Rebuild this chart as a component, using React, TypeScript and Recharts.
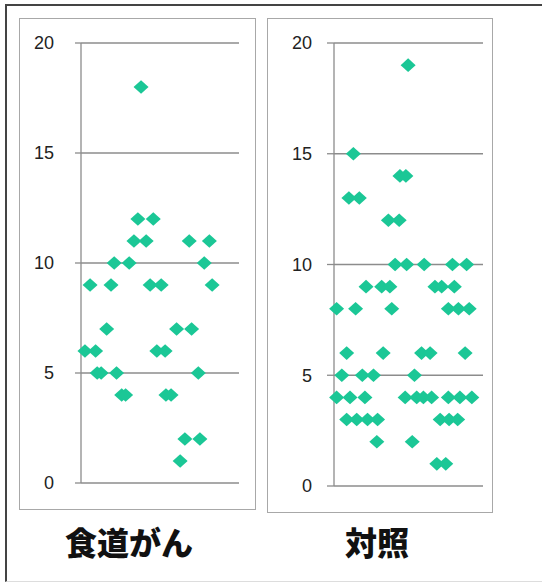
import { CartesianGrid, Scatter, ScatterChart, XAxis, YAxis } from 'recharts'

// 食道がん group: values and horizontal jitter positions (0–40)
const cancerValues = [18, 12, 12, 11, 11, 11, 11, 10, 10, 10, 9, 9, 9, 9, 9, 7, 7, 7, 6, 6, 6, 6, 5, 5, 5, 5, 4, 4, 4, 4, 2, 2, 1]
const cancerJitter = [15.2, 14.4, 18.3, 13.4, 16.5, 27.4, 32.5, 8.4, 12.2, 31.2, 2.3, 7.6, 17.5, 20.3, 33.2, 6.5, 24.2, 28.0, 1.0, 3.7, 19.2, 21.3, 4.1, 5.1, 9.0, 29.7, 10.3, 11.3, 21.5, 22.8, 26.3, 30.1, 25.1]

// 対照 group
const controlValues = [19, 15, 14, 14, 13, 13, 12, 12, 10, 10, 10, 10, 10, 9, 9, 9, 9, 9, 9, 8, 8, 8, 8, 8, 8, 6, 6, 6, 6, 6, 5, 5, 5, 5, 4, 4, 4, 4, 4, 4, 4, 4, 4, 4, 3, 3, 3, 3, 3, 3, 3, 2, 2, 1, 1]
const controlJitter = [19.9, 5.2, 17.7, 19.3, 4.0, 6.8, 14.6, 17.5, 16.4, 19.5, 24.2, 31.8, 35.6, 8.6, 12.8, 15.0, 27.1, 28.9, 32.3, 0.7, 5.8, 15.5, 30.7, 33.4, 36.3, 3.4, 13.2, 23.5, 25.8, 35.2, 2.1, 7.6, 10.6, 21.6, 0.7, 4.3, 8.3, 19.1, 22.2, 24.0, 26.2, 30.7, 33.8, 37.0, 3.4, 6.1, 9.0, 11.7, 28.5, 30.9, 33.2, 11.5, 21.0, 27.6, 30.0]

const yTicks = [0, 5, 10, 15, 20]
const groupLabels = ['食道がん', '対照']

const MARKER = '#1bc796'
const GRID = '#8c8c8c'

function toPoints(values: number[], jitter: number[]) {
  return values.map((y, i) => ({ x: jitter[i], y }))
}

function Diamond(props: any) {
  const { cx, cy } = props
  if (cx == null || cy == null) return null
  const w = 7.5
  const h = 6.8
  return (
    <polygon
      points={`${cx},${cy - h} ${cx + w},${cy} ${cx},${cy + h} ${cx - w},${cy}`}
      fill={MARKER}
    />
  )
}

type PanelProps = {
  data: { x: number; y: number }[]
  left: number
  width: number
  axisWidth: number
  tickSize: number
  tickMargin: number
  marginRight: number
  marginBottom: number
}

function Panel({ data, left, width, axisWidth, tickSize, tickMargin, marginRight, marginBottom }: PanelProps) {
  return (
    <div style={{ position: 'absolute', left, top: 0 }}>
      <ScatterChart
        width={width}
        height={500}
        margin={{ top: 43, right: marginRight, bottom: marginBottom, left: 0 }}
      >
        <CartesianGrid vertical={false} stroke={GRID} strokeWidth={1.3} />
        <XAxis type="number" dataKey="x" domain={[0, 40]} hide />
        <YAxis
          type="number"
          dataKey="y"
          domain={[0, 20]}
          ticks={yTicks}
          width={axisWidth}
          tickSize={tickSize}
          tickMargin={tickMargin}
          axisLine={{ stroke: GRID, strokeWidth: 1.3 }}
          tickLine={{ stroke: GRID, strokeWidth: 1.3 }}
          tick={{ fontSize: 18, fill: '#222', fontFamily: 'Liberation Sans, Arial, sans-serif' }}
        />
        <Scatter data={data} shape={Diamond} isAnimationActive={false} />
      </ScatterChart>
    </div>
  )
}

export default function App() {
  const labelStyle = {
    position: 'absolute' as const,
    top: 521,
    width: 200,
    textAlign: 'center' as const,
    fontFamily: '"Noto Sans CJK JP", sans-serif',
    fontWeight: 900,
    fontSize: 32,
    lineHeight: '40px',
    color: '#111',
  }
  return (
    <div style={{ position: 'absolute', left: 0, top: 0, width: 542, height: 585, overflow: 'hidden', background: '#fff' }}>
      {/* outer frame */}
      <div style={{ position: 'absolute', left: 5, top: 4, width: 560, height: 575, borderLeft: '2px solid #444', borderTop: '2px solid #444', borderBottom: '1px solid #ddd' }} />
      {/* panel boxes */}
      <div style={{ position: 'absolute', left: 19, top: 18, width: 235, height: 490, border: '1.5px solid #a8a8a8' }} />
      <div style={{ position: 'absolute', left: 267, top: 18, width: 224, height: 493, border: '1.5px solid #a8a8a8' }} />
      <Panel data={toPoints(cancerValues, cancerJitter)} left={0} width={250} axisWidth={81} tickSize={6} tickMargin={21} marginRight={11} marginBottom={17} />
      <Panel data={toPoints(controlValues, controlJitter)} left={260} width={240} axisWidth={74} tickSize={7} tickMargin={15} marginRight={17} marginBottom={14} />
      <div style={{ ...labelStyle, left: 29 }}>{groupLabels[0]}</div>
      <div style={{ ...labelStyle, left: 277 }}>{groupLabels[1]}</div>
    </div>
  )
}
